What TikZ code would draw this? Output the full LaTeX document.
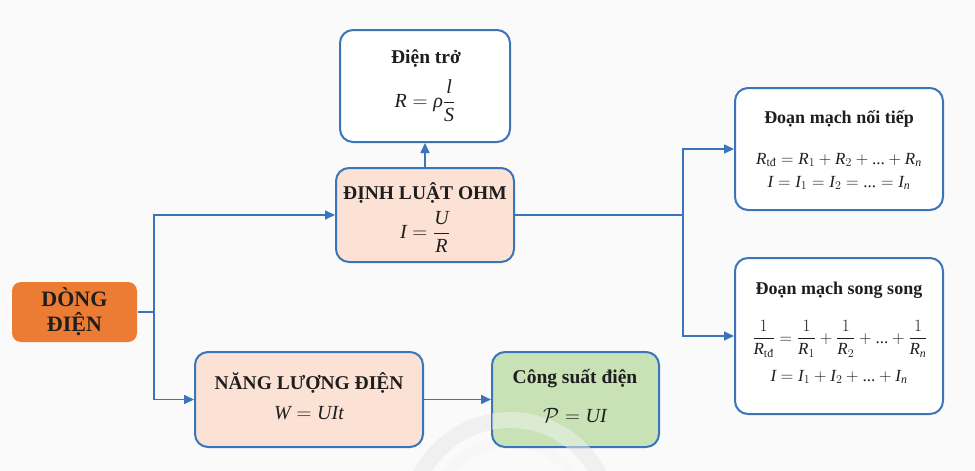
\documentclass[tikz,border=0pt]{standalone}
\usepackage{amsmath}
\usepackage[no-math]{fontspec}
\setmainfont{Liberation Serif}
\usetikzlibrary{arrows.meta}
\definecolor{bordblue}{HTML}{3A74BB}
\definecolor{peach}{HTML}{FBE2D5}
\definecolor{leaf}{HTML}{C8E2B6}
\definecolor{orng}{HTML}{EC7B33}
\definecolor{bg}{HTML}{FAFAFA}
\definecolor{ink}{HTML}{1E1E1E}
\newcommand{\mi}[1]{\text{\itshape #1}}
\newcommand{\td}{\text{tđ}}
\newcommand{\dts}{\text{...}}
\begin{document}
\begin{tikzpicture}[x=1pt,y=-1pt,
  box/.style={draw=bordblue, line width=2pt, rounded corners=13pt, inner sep=0pt},
  ttl/.style={inner sep=0pt, text=ink, font=\fontsize{19.5}{22}\selectfont\bfseries},
  rttl/.style={inner sep=0pt, text=ink, font=\fontsize{18}{21}\selectfont\bfseries},
  frm/.style={inner sep=0pt, text=ink, font=\fontsize{20}{24}\selectfont},
  rfrm/.style={inner sep=0pt, text=ink, font=\fontsize{17}{20}\selectfont},
  conn/.style={draw=bordblue, line width=1.6pt},
  arr/.style={conn, -{Triangle[length=10pt,width=9pt]}}]
\useasboundingbox (0,0) rectangle (975,471);
\fill[bg] (0,0) rectangle (975,471);
% faint watermark arc
\begin{scope}
\clip (0,0) rectangle (975,471);
\draw[black!6, line width=16pt] (510,520) circle[radius=100];
\draw[black!3, line width=10pt] (510,520) circle[radius=78];
\end{scope}

% boxes
\node[box, fill=white, minimum width=170pt, minimum height=112pt] (dientro) at (425,86) {};
\node[box, fill=peach, minimum width=178pt, minimum height=94pt] (ohm) at (425,215) {};
\node[box, fill=white, minimum width=208pt, minimum height=122pt] (noitiep) at (839,149) {};
\node[box, fill=white, minimum width=208pt, minimum height=156pt] (songsong) at (839,336) {};
\node[box, fill=orng, draw=none, rounded corners=9pt, minimum width=125pt, minimum height=60pt] (dong) at (74.5,312) {};
\node[box, fill=peach, minimum width=228pt, minimum height=95pt] (nangluong) at (309,399.5) {};
\node[box, fill=leaf, minimum width=167pt, minimum height=95pt] (congsuat) at (575.5,399.5) {};

% watermark shows through green box slightly
\begin{scope}
\clip (492,352) rectangle (660,447);
\draw[black!6, line width=16pt, opacity=0.5] (510,520) circle[radius=100];
\end{scope}

% texts
\node[ttl] (dientro-t) at (426,59) {Điện trở};
\node[frm] (dientro-f) at (425,101) {$\mi{R}=\mi{ρ}\dfrac{\mi{l}}{\mi{S}}$};
\node[ttl] (ohm-t) at (425,193) {ĐỊNH LUẬT OHM};
\node[frm] (ohm-f) at (425,232) {$\mi{I}=\dfrac{\mi{U}}{\mi{R}}$};
\node[rttl] (noitiep-t) at (839,119) {Đoạn mạch nối tiếp};
\node[rfrm] (noitiep-f1) at (839,160) {$\mi{R}_{\td}=\mi{R}_1+\mi{R}_2+\dts+\mi{R}_{\mi{n}}$};
\node[rfrm] (noitiep-f2) at (839,183) {$\mi{I}=\mi{I}_1=\mi{I}_2=\dts=\mi{I}_{\mi{n}}$};
\node[rttl] (songsong-t) at (839,290) {Đoạn mạch song song};
\node[rfrm] (songsong-f1) at (840,339) {$\dfrac{1}{\mi{R}_{\td}}=\dfrac{1}{\mi{R}_1}+\dfrac{1}{\mi{R}_2}+\dts+\dfrac{1}{\mi{R}_{\mi{n}}}$};
\node[rfrm] (songsong-f2) at (839,377) {$\mi{I}=\mi{I}_1+\mi{I}_2+\dts+\mi{I}_{\mi{n}}$};
\node[inner sep=0pt, text=ink, align=center, font=\fontsize{22}{25}\selectfont\bfseries] (dong-t) at (74.5,312) {DÒNG\\ĐIỆN};
\node[ttl] (nangluong-t) at (309,383) {NĂNG LƯỢNG ĐIỆN};
\node[frm] (nangluong-f) at (309,413) {$\mi{W}=\mi{UIt}$};
\node[ttl] (congsuat-t) at (575,379) {Công suất điện};
\node[frm] (congsuat-f) at (575,416) {$\mathcal{P}=\mi{UI}$};

% connectors
\coordinate (j1) at (154,312);
\coordinate (j2) at (683,215);
\draw[conn] (dong.east) -- (j1);
\draw[arr] (j1) |- (ohm.west);
\draw[arr] (j1) |- (nangluong.west);
\draw[arr] (ohm.north) -- (dientro.south);
\draw[conn] (ohm.east) -- (j2);
\draw[arr] (j2) |- (noitiep.west);
\draw[arr] (j2) |- (songsong.west);
\draw[arr] (nangluong.east) -- (congsuat.west);
\end{tikzpicture}
\end{document}
